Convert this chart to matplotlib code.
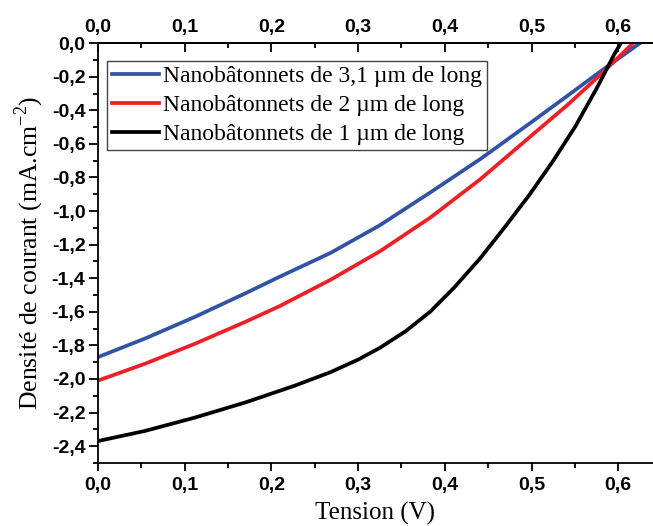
import matplotlib
matplotlib.use("Agg")
import matplotlib.pyplot as plt
from matplotlib.ticker import MultipleLocator, FixedLocator, FuncFormatter

# tension (V) et densite de courant (mA.cm-2)
v_31 = [0.0, 0.054, 0.112, 0.170, 0.210, 0.268, 0.325, 0.383, 0.441, 0.500, 0.541, 0.579, 0.625, 0.636]
j_31 = [-1.87, -1.76, -1.63, -1.49, -1.39, -1.25, -1.085, -0.89, -0.69, -0.47, -0.315, -0.17, 0.0, 0.04]

v_2 = [0.0, 0.054, 0.112, 0.170, 0.210, 0.268, 0.325, 0.383, 0.441, 0.500, 0.541, 0.579, 0.617, 0.628]
j_2 = [-2.01, -1.91, -1.79, -1.66, -1.565, -1.41, -1.24, -1.04, -0.81, -0.55, -0.37, -0.19, 0.0, 0.05]

v_1 = [0.0, 0.054, 0.112, 0.170, 0.227, 0.268, 0.300, 0.325, 0.355, 0.383, 0.410, 0.441, 0.470, 0.498,
       0.525, 0.550, 0.575, 0.595, 0.612]
j_1 = [-2.37, -2.31, -2.23, -2.14, -2.04, -1.96, -1.885, -1.815, -1.715, -1.60, -1.46, -1.28, -1.09, -0.90,
       -0.70, -0.50, -0.27, -0.07, 0.08]

labels = ["Nanobâtonnets de 3,1 µm de long",
          "Nanobâtonnets de 2 µm de long",
          "Nanobâtonnets de 1 µm de long"]
colors = ["#3153a4", "#ee1f27", "#000000"]

x_major = [0.0, 0.1, 0.2, 0.3, 0.4, 0.5, 0.6]
x_minor = [0.05, 0.15, 0.25, 0.35, 0.45, 0.55]

serif = "Liberation Serif"
sans = "Liberation Sans"
plt.rcParams["mathtext.fontset"] = "custom"
plt.rcParams["mathtext.rm"] = serif

fig = plt.figure(figsize=(6.53, 5.26), dpi=100)
ax = fig.add_axes([0.150, 0.120, 0.85, 0.798])

for v, j, lab, c in zip([v_31, v_2, v_1], [j_31, j_2, j_1], labels, colors):
    ax.plot(v, j, color=c, lw=2.7, label=lab, solid_joinstyle="round")

ax.set_xlim(0, 0.64)
ax.set_ylim(-2.5, 0)


def virgule(x, pos):
    if abs(x) < 1e-9:
        x = 0.0
    return f"{x:.1f}".replace(".", ",")


comma = FuncFormatter(virgule)
ax.xaxis.set_major_locator(FixedLocator(x_major))
ax.xaxis.set_minor_locator(FixedLocator(x_minor))
ax.yaxis.set_major_locator(MultipleLocator(0.2))
ax.yaxis.set_minor_locator(MultipleLocator(0.1))
ax.xaxis.set_major_formatter(comma)
ax.yaxis.set_major_formatter(comma)

ax.tick_params(axis="x", which="major", direction="out", length=6, width=1.3, pad=4.5)
ax.tick_params(axis="x", which="minor", direction="out", length=3.5, width=1.3)
ax.tick_params(axis="y", which="major", direction="out", length=6.5, width=1.3, pad=2.5)
ax.tick_params(axis="y", which="minor", direction="out", length=3.5, width=1.3)
ax.spines["right"].set_visible(False)
for s in ["left", "bottom", "top"]:
    ax.spines[s].set_linewidth(1.3)

top = ax.secondary_xaxis("top")
top.xaxis.set_major_locator(FixedLocator(x_major))
top.xaxis.set_minor_locator(FixedLocator(x_minor))
top.xaxis.set_major_formatter(comma)
top.tick_params(which="major", direction="in", length=6.5, width=1.3, pad=5)
top.tick_params(which="minor", direction="in", length=3.5, width=1.3)
top.spines["top"].set_linewidth(1.3)

for lab in ax.get_xticklabels() + ax.get_yticklabels() + top.get_xticklabels():
    lab.set_fontfamily(sans)
    lab.set_fontweight("bold")
    lab.set_fontsize(14)

ax.set_xlabel("Tension (V)", fontfamily=serif, fontsize=18, labelpad=5)
ax.set_ylabel("Densité de courant (mA.cm$^{\\mathrm{-2}}$)", fontfamily=serif, fontsize=18.5, labelpad=4)

leg = ax.legend(loc="upper left", bbox_to_anchor=(0.016, 0.958), prop={"family": serif, "size": 17},
                frameon=True, fancybox=False, edgecolor="#444444", framealpha=1,
                handlelength=2.0, handletextpad=0.2, labelspacing=0.32, borderpad=0.2, borderaxespad=0)
leg.get_frame().set_linewidth(1.0)

plt.savefig("out.png", dpi=100)
plt.close()
